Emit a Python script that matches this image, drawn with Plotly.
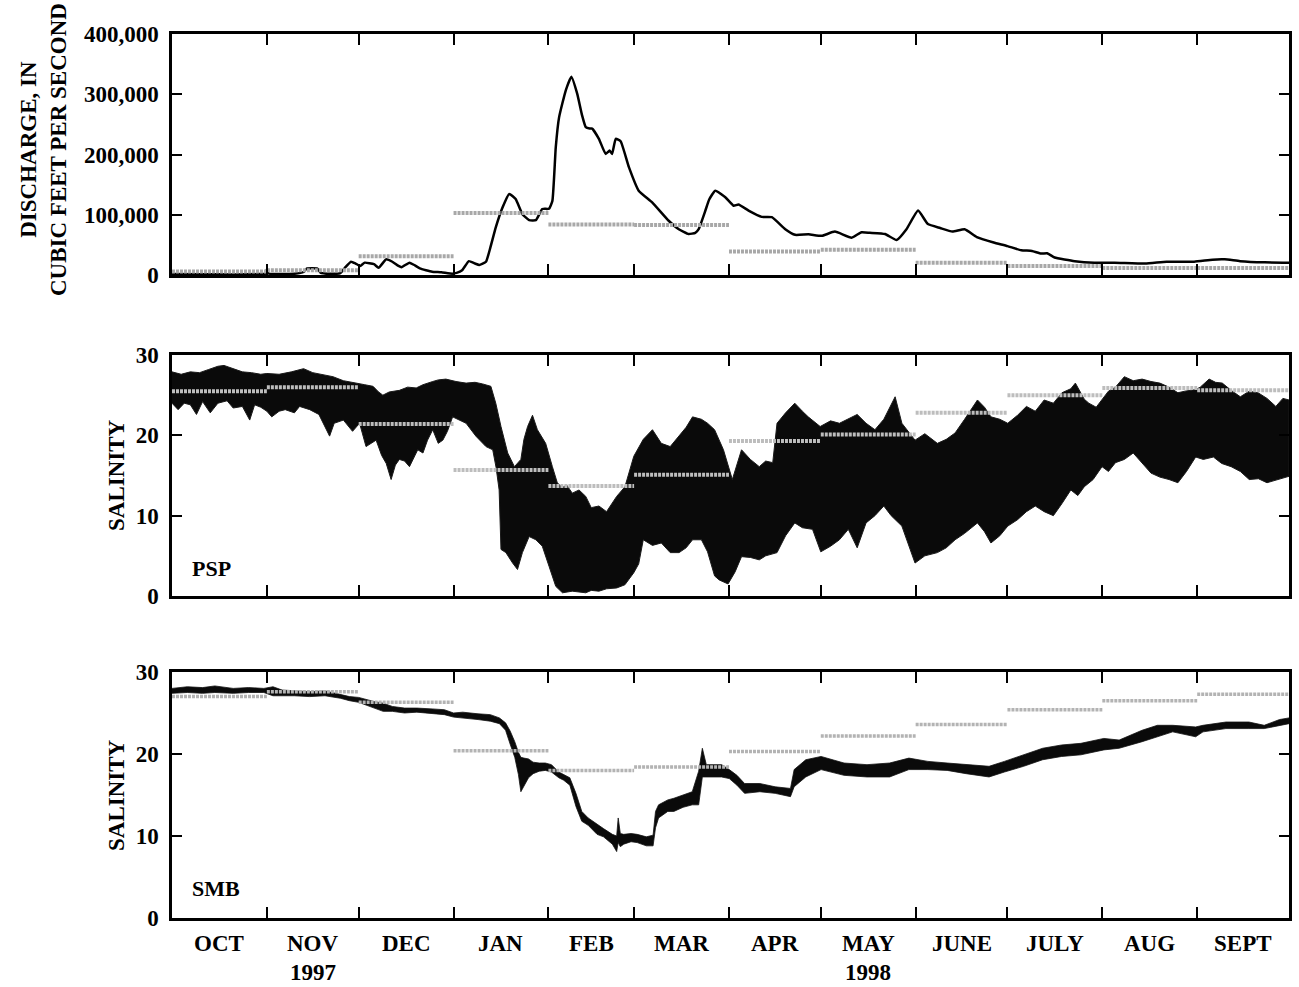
import pandas as pd
import plotly.graph_objects as go

START = pd.Timestamp("1997-10-01")

# ---------------- DATA ----------------
month_starts = ["1997-10-01", "1997-11-01", "1997-12-01", "1998-01-01", "1998-02-01",
                "1998-03-01", "1998-04-01", "1998-05-01", "1998-06-01", "1998-07-01",
                "1998-08-01", "1998-09-01", "1998-10-01"]
month_labels = ["OCT", "NOV", "DEC", "JAN", "FEB", "MAR", "APR", "MAY", "JUNE", "JULY", "AUG", "SEPT"]
year_labels = {"NOV": "1997", "MAY": "1998"}

# Daily discharge (days since 1997-10-01, cubic feet per second)
q_day = [0, 10, 20, 28, 30.5, 31, 31.5, 40, 43, 44, 47.5, 48.5, 52, 55, 56.5, 58.5, 60, 61.5, 63, 66,
         67.5, 70, 72, 74, 75, 77.6, 79, 81, 83, 85, 88, 91.6, 93, 94.8, 97, 99, 100.4, 102.6, 104,
         105.8, 108, 110.2, 112.3, 114.5, 116.7, 118.9, 121, 123.2, 124.3, 125.4, 126.5, 128.7,
         130.5, 132.4, 134, 135.2, 136.5, 137.3, 139.5, 141.7, 143, 143.8, 145, 146.6, 149.3,
         152.5, 156.9, 162.3, 165.6, 168.8, 171, 172.1, 174.3, 175.5, 177.5, 180.8, 183.5, 185.1,
         188.4, 192.7, 196, 200.4, 203.6, 208, 212.3, 216.6, 222.1, 225.3, 228, 233, 236.8, 240,
         243.8, 247, 251, 255, 259, 263, 268.5, 273, 277.5, 281, 284, 286, 288.4, 295, 301.4, 308,
         318, 325, 334, 340, 344, 349, 357, 365]
q_val = [1500, 1200, 1000, 1500, 2000, 9000, 2500, 2000, 5000, 10500, 10500, 4000, 2000, 3000, 12000,
         22000, 19000, 15000, 20500, 18000, 12000, 26000, 22000, 15000, 13000, 20500, 17000, 11000,
         8000, 5500, 4500, 2200, 3500, 7800, 23000, 19000, 16700, 22000, 45000, 79000, 112000,
         134500, 126000, 101000, 91000, 91000, 109500, 110000, 123000, 212000, 262000, 307000,
         329000, 301000, 265000, 245500, 243000, 243000, 226000, 201000, 206500, 201000, 226000,
         222000, 179000, 140000, 120500, 90000, 76000, 68000, 70000, 76000, 107000, 125000, 140000,
         129000, 115000, 117000, 107000, 96500, 96000, 76000, 66700, 67500, 65000, 72000, 62000,
         71000, 70000, 68000, 58000, 76000, 107000, 84500, 78000, 72000, 76000, 63000, 54000,
         48000, 41000, 40000, 35500, 36000, 29000, 23000, 20500, 20500, 19000, 22000, 22000,
         25500, 26000, 23000, 21000, 20500]
q_monthly_mean = [6000, 8000, 31000, 103000, 84000, 83000, 39000, 42000, 20500, 15000, 11500, 11500]

# PSP salinity: upper / lower envelope of tidal record
psp_hi_day = [0, 3, 6, 9, 12, 15, 17, 20, 23, 26, 29, 31, 35, 39, 43, 46, 49, 52.6, 56, 59, 61.3, 63,
              65.7, 67.5, 68.9, 71, 74.3, 77, 79.8, 82, 85.2, 87, 89.5, 92.8, 96.1, 99, 101.5, 104.2,
              105.8, 107.5, 109.7, 111.9, 114, 115, 116.2, 117.8, 119.4, 122.1, 124.3, 125.9, 127.5,
              129, 130.8, 133, 135.2, 137, 139.5, 142, 145.3, 148, 150.9, 154, 157, 159.9, 162.8,
              165.7, 168, 170.1, 173, 175, 177.3, 180.2, 183.1, 186.1, 189, 191.9, 194, 196.3, 197.7,
              200.5, 203.5, 206, 207.9, 211.8, 215.2, 218.1, 221, 223.9, 226.8, 229.7, 232.6, 234.5,
              236.3, 238.5, 242.8, 246, 250.1, 253, 255.9, 259, 263.2, 265.5, 267.6, 270.5, 273.1,
              276.3, 279.2, 282.1, 285, 288, 290.8, 293.7, 295.2, 298.1, 299.6, 302, 303.9, 306,
              308.3, 311.2, 314.1, 317, 319.9, 322.8, 325.8, 328.7, 331, 334.5, 336, 338.9, 341,
              343.2, 346.1, 349.1, 352, 354.9, 357.8, 360.7, 363, 365]
psp_hi = [27.9, 27.6, 27.9, 27.8, 28.2, 28.6, 28.7, 28.3, 27.9, 27.8, 27.6, 27.7, 27.6, 27.9, 28.3,
          27.8, 27.6, 27.3, 26.8, 26.6, 26.5, 26.3, 26.1, 25.4, 25.0, 25.4, 25.6, 26.0, 25.9, 26.3,
          26.7, 26.9, 27.0, 26.7, 26.5, 26.6, 26.4, 26.1, 24.0, 21.1, 17.8, 16.1, 17.0, 19.5, 21.1,
          22.5, 20.7, 19.0, 16.1, 14.1, 13.5, 13.8, 12.8, 13.2, 12.4, 11.0, 11.2, 10.5, 12.4, 13.6,
          17.4, 19.5, 20.7, 19.0, 18.6, 20.0, 21.0, 22.3, 22.0, 21.5, 20.7, 18.2, 14.5, 18.2, 17.0,
          16.1, 16.8, 16.6, 21.5, 22.8, 24.0, 23.0, 22.3, 21.1, 21.8, 21.5, 22.0, 22.6, 21.5, 20.7,
          22.0, 23.5, 24.8, 21.5, 19.4, 20.2, 19.0, 19.5, 20.3, 22.0, 24.4, 23.5, 22.3, 22.0, 21.5,
          22.5, 23.6, 23.0, 24.4, 24.0, 25.3, 25.8, 26.5, 24.5, 24.0, 23.5, 24.4, 25.5, 26.0, 27.3,
          26.8, 27.0, 26.7, 26.5, 26.0, 25.3, 25.5, 25.7, 26.0, 27.0, 26.6, 26.5, 25.6, 24.8, 25.5,
          25.3, 24.6, 23.6, 24.6, 24.4]
psp_lo_day = [0, 2, 4, 6, 8, 10, 12.5, 15, 18, 20, 23, 25.4, 27, 29, 31, 32.6, 35, 37, 40, 41.7, 45,
              48, 51.5, 53, 56, 59, 61.3, 63.4, 66.7, 68.5, 70, 71.6, 73, 74.3, 76, 77.6, 80.3, 82,
              83.5, 85.2, 87, 88.5, 90, 91.7, 93.9, 96.1, 99.3, 102.6, 104.8, 105.9, 106.9, 107.5,
              109.1, 111.3, 112.9, 114.5, 116.7, 118.9, 121, 123.2, 125.4, 127.6, 130.8, 133, 135.2,
              137, 139.5, 142, 145.3, 148, 150.9, 152.5, 154, 157, 159.9, 162.8, 165.7, 168, 170.1,
              173, 175, 177.3, 178.8, 181.7, 184, 186.1, 189, 191.9, 194, 197.7, 200.5, 203.5, 206,
              209.3, 212, 215.2, 218.1, 221, 223.9, 226.8, 229.7, 232.6, 235, 238.5, 242.8, 246,
              250.1, 253, 255.9, 259, 263.2, 265.5, 267.6, 270.5, 273.1, 276.3, 279.2, 282.1, 285,
              288, 290.8, 293.7, 296, 298.1, 301, 303.9, 306, 308.3, 311.2, 314.1, 317, 319.9, 322.8,
              325.8, 328.7, 331.5, 334.5, 337, 340.3, 343, 346.1, 349.1, 352, 355, 357.8, 361, 365]
psp_lo = [24.0, 23.2, 24.0, 23.8, 22.6, 24.2, 22.8, 24.0, 24.3, 23.4, 23.6, 21.9, 23.8, 23.5, 23.0,
          22.3, 23.0, 23.2, 22.8, 23.6, 23.2, 22.6, 19.9, 21.5, 21.9, 20.5, 21.5, 18.6, 19.4, 17.5,
          16.5, 14.5, 16.3, 17.0, 16.8, 16.1, 18.2, 17.8, 19.4, 20.7, 19.0, 19.4, 20.5, 22.3, 21.9,
          21.5, 19.9, 18.6, 18.2, 16.0, 13.2, 5.8, 5.4, 4.1, 3.3, 5.4, 7.4, 7.0, 6.2, 3.7, 1.2, 0.4,
          0.6, 0.5, 0.4, 0.7, 0.6, 0.9, 1.0, 1.4, 2.9, 4.0, 7.0, 6.3, 6.6, 5.4, 5.4, 6.0, 7.0, 7.0,
          5.5, 2.5, 2.0, 1.5, 3.0, 4.9, 4.8, 4.5, 5.0, 5.4, 7.5, 9.1, 8.5, 8.3, 5.5, 6.2, 7.0, 8.3,
          6.0, 9.1, 10.0, 11.2, 10.0, 8.7, 4.1, 5.0, 5.4, 6.0, 7.0, 7.8, 9.1, 8.0, 6.6, 7.5, 8.7,
          9.5, 10.5, 11.2, 10.5, 10.0, 11.5, 13.2, 12.5, 13.6, 14.5, 16.1, 15.5, 16.6, 17.0, 17.8,
          16.5, 15.3, 14.8, 14.5, 14.1, 15.5, 17.3, 17.0, 17.3, 16.5, 16.1, 15.5, 14.5, 14.6, 14.1,
          14.5, 14.9]
psp_monthly_mean = [25.5, 26.0, 21.4, 15.7, 13.7, 15.1, 19.3, 20.1, 22.8, 25.0, 25.9, 25.6]

# SMB salinity: upper / lower envelope
smb_day = [0, 5, 10, 14, 20, 25, 30, 33, 36, 40, 45, 50, 55, 58, 61, 64, 66, 69, 72, 76, 80, 85, 89,
           92, 95, 100, 104, 107, 109, 110.5, 112, 113.2, 114, 115, 116.5, 118, 120, 122, 124, 126.4,
           128, 130, 132, 133.9, 136, 138.9, 141, 143.9, 145.3, 145.8, 146.5, 147.6, 150, 152, 155,
           157.2, 158, 159, 162, 164, 167, 170, 172.1, 173.3, 174.6, 179.6, 182.1, 184.6, 187.1,
           192.1, 197.1, 202.1, 203.3, 207.1, 212.1, 219.6, 227.1, 234.5, 240.8, 247, 253.3, 259.5,
           267, 272, 278.3, 284.5, 290.7, 297, 304.5, 309.5, 317, 322, 327, 334.5, 336.9, 344.4,
           351.9, 356.9, 361.9, 365]
smb_hi = [28.0, 28.2, 28.1, 28.3, 28.0, 28.1, 28.0, 28.2, 27.8, 27.7, 27.6, 27.7, 27.3, 27.0, 26.9,
          26.6, 26.4, 26.2, 25.8, 25.6, 25.6, 25.5, 25.4, 25.0, 25.1, 24.9, 24.8, 24.4, 23.8, 22.8,
          21.5, 20.2, 19.6, 19.5, 19.4, 19.0, 18.9, 18.9, 18.7, 17.8, 17.5, 17.1, 15.2, 13.0, 12.2,
          11.4, 10.9, 10.2, 10.0, 12.2, 10.3, 10.2, 10.3, 10.2, 9.9, 10.1, 13.0, 13.8, 14.4, 14.6,
          15.0, 15.4, 17.9, 20.7, 18.7, 18.7, 18.1, 17.4, 16.4, 16.4, 16.0, 15.8, 18.1, 19.3, 19.7,
          18.9, 18.7, 18.9, 19.5, 19.1, 18.9, 18.7, 18.5, 19.1, 19.9, 20.7, 21.1, 21.3, 21.9, 21.7,
          22.9, 23.5, 23.5, 23.3, 23.5, 23.9, 23.9, 23.5, 24.2, 24.4]
smb_lo = [27.4, 27.5, 27.4, 27.5, 27.4, 27.5, 27.5, 27.1, 27.1, 27.1, 27.0, 27.1, 26.8, 26.5, 26.3,
          25.9, 25.6, 25.2, 25.2, 25.0, 25.1, 24.9, 24.8, 24.5, 24.4, 24.2, 24.0, 23.7, 22.9, 21.2,
          19.6, 17.5, 15.4, 16.0, 17.1, 17.6, 17.9, 18.0, 17.8, 17.1, 16.8, 16.2, 13.6, 11.8, 11.3,
          10.2, 9.9, 9.0, 8.1, 9.2, 8.7, 9.0, 9.3, 9.2, 8.8, 8.8, 11.0, 12.2, 13.0, 13.0, 13.5, 13.8,
          13.8, 17.2, 17.2, 17.2, 17.0, 16.2, 15.2, 15.4, 15.2, 14.8, 16.0, 17.2, 18.1, 17.4, 17.2,
          17.2, 18.1, 18.1, 18.0, 17.6, 17.2, 17.8, 18.5, 19.3, 19.7, 19.9, 20.5, 20.7, 21.5, 22.1,
          22.7, 22.1, 22.7, 23.1, 23.1, 23.1, 23.5, 23.7]
smb_monthly_mean = [27.0, 27.6, 26.3, 20.4, 18.0, 18.4, 20.3, 22.2, 23.6, 25.4, 26.5, 27.3]

# ---------------- HELPERS ----------------
def to_dates(days):
    return [START + pd.Timedelta(days=float(d)) for d in days]

def monthly_segments(means):
    xs, ys = [], []
    for i, v in enumerate(means):
        xs += [pd.Timestamp(month_starts[i]), pd.Timestamp(month_starts[i + 1]), None]
        ys += [v, v, None]
    return xs, ys

def band(hi_day, hi, lo_day, lo):
    x = to_dates(hi_day) + to_dates(lo_day)[::-1]
    y = list(hi) + list(lo)[::-1]
    return x, y

FONT = "Liberation Serif"
W, H = 1299, 987
L, R, T, B = 172, 1292, 34, 918
PH = B - T

def py(p):
    return 1 - (p - T) / PH

def bfont(size=23):
    return dict(family=FONT, size=size, color="black", weight="bold")

fig = go.Figure()

# Panel 1: discharge
fig.add_trace(go.Scatter(x=to_dates(q_day), y=q_val, mode="lines",
                         line=dict(color="black", width=2.5, shape="spline", smoothing=0.4),
                         xaxis="x", yaxis="y", hoverinfo="skip"))
mx, my = monthly_segments(q_monthly_mean)
fig.add_trace(go.Scatter(x=mx, y=my, mode="lines", line=dict(color="#a8a8a8", width=4, dash="3px,1px"),
                         xaxis="x", yaxis="y", hoverinfo="skip"))

# Panel 2: PSP
bx, by = band(psp_hi_day, psp_hi, psp_lo_day, psp_lo)
fig.add_trace(go.Scatter(x=bx, y=by, mode="lines", fill="toself", fillcolor="#0a0a0a",
                         line=dict(color="#1a1a1a", width=1), xaxis="x2", yaxis="y2", hoverinfo="skip"))
mx, my = monthly_segments(psp_monthly_mean)
fig.add_trace(go.Scatter(x=mx, y=my, mode="lines", line=dict(color="#bdbdbd", width=4, dash="3px,1px"),
                         xaxis="x2", yaxis="y2", hoverinfo="skip"))

# Panel 3: SMB
bx, by = band(smb_day, smb_hi, smb_day, smb_lo)
fig.add_trace(go.Scatter(x=bx, y=by, mode="lines", fill="toself", fillcolor="#0a0a0a",
                         line=dict(color="#111111", width=0.8), xaxis="x3", yaxis="y3", hoverinfo="skip"))
mx, my = monthly_segments(smb_monthly_mean)
fig.add_trace(go.Scatter(x=mx, y=my, mode="lines", line=dict(color="#b3b3b3", width=3.5, dash="3px,1px"),
                         xaxis="x3", yaxis="y3", hoverinfo="skip"))

xr = [pd.Timestamp(month_starts[0]), pd.Timestamp(month_starts[-1])]
xcommon = dict(range=xr, type="date", showgrid=False, zeroline=False, showline=True, linecolor="black",
               linewidth=2.5, mirror="ticks", ticks="inside", ticklen=11, tickwidth=2, tickcolor="black",
               tickvals=[pd.Timestamp(m) for m in month_starts[1:-1]], showticklabels=False)
ycommon = dict(showgrid=False, zeroline=False, showline=True, linecolor="black", linewidth=2.5,
               mirror="ticks", ticks="inside", ticklen=10, tickwidth=2, tickcolor="black",
               tickfont=bfont(23), ticklabelstandoff=6)

doms = [(py(275), 1.0), (py(596), py(355)), (0.0, py(672))]
fig.update_layout(
    width=W, height=H, margin=dict(l=L, r=W - R, t=T, b=H - B),
    paper_bgcolor="white", plot_bgcolor="white", showlegend=False,
    xaxis=dict(xcommon, domain=[0, 1], anchor="y"),
    xaxis2=dict(xcommon, domain=[0, 1], anchor="y2"),
    xaxis3=dict(xcommon, domain=[0, 1], anchor="y3"),
    yaxis=dict(ycommon, domain=list(doms[0]), range=[0, 400000], tickvals=[0, 100000, 200000, 300000, 400000],
               tickformat=",d", anchor="x"),
    yaxis2=dict(ycommon, domain=list(doms[1]), range=[0, 30], dtick=10, anchor="x2"),
    yaxis3=dict(ycommon, domain=list(doms[2]), range=[0, 30], dtick=10, anchor="x3"),
)

ann = []
for i, lab in enumerate(month_labels):
    mid = pd.Timestamp(month_starts[i]) + (pd.Timestamp(month_starts[i + 1]) - pd.Timestamp(month_starts[i])) / 2
    ann.append(dict(x=mid, y=0, xref="x3", yref="paper", text=lab, showarrow=False,
                    yanchor="middle", yshift=-25, font=bfont(23)))
    if lab in year_labels:
        ann.append(dict(x=mid, y=0, xref="x3", yref="paper", text=year_labels[lab], showarrow=False,
                        yanchor="middle", yshift=-54, font=bfont(23)))

ann.append(dict(x=0, y=py(150), xref="paper", yref="paper", xshift=-129, text="DISCHARGE, IN<br>CUBIC FEET PER SECOND",
                textangle=-90, showarrow=False, xanchor="center", yanchor="middle", font=bfont(23)))
for yc in (475, 795):
    ann.append(dict(x=0, y=py(yc), xref="paper", yref="paper", xshift=-56, text="SALINITY", textangle=-90,
                    showarrow=False, xanchor="center", yanchor="middle", font=bfont(23)))
ann.append(dict(x=0, y=py(568), xref="paper", yref="paper", xshift=18, text="PSP", showarrow=False,
                xanchor="left", yanchor="middle", font=bfont(22)))
ann.append(dict(x=0, y=py(888), xref="paper", yref="paper", xshift=18, text="SMB", showarrow=False,
                xanchor="left", yanchor="middle", font=bfont(22)))
fig.update_layout(annotations=ann)

fig.write_html("out.html")
